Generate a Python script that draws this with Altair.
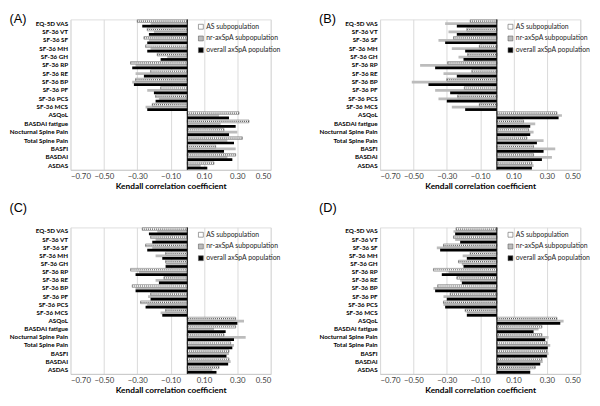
import altair as alt
import pandas as pd

categories = ["EQ-5D VAS", "SF-36 VT", "SF-36 SF", "SF-36 MH", "SF-36 GH", "SF-36 RP",
              "SF-36 RE", "SF-36 BP", "SF-36 PF", "SF-36 PCS", "SF-36 MCS", "ASQoL",
              "BASDAI fatigue", "Nocturnal Spine Pain", "Total Spine Pain", "BASFI",
              "BASDAI", "ASDAS"]
series_names = ["AS subpopulation", "nr-axSpA subpopulation", "overall axSpA population"]
panels = ["(A)", "(B)", "(C)", "(D)"]
tick_values = [-0.70, -0.50, -0.30, -0.10, 0.10, 0.30, 0.50]

A_AS = [-0.30, -0.24, -0.26, -0.25, -0.18, -0.34, -0.22, -0.31, -0.16, -0.19, -0.21, 0.31, 0.37, 0.22, 0.33, 0.17, 0.29, 0.16]
A_NR = [-0.22, -0.20, -0.23, -0.22, -0.12, -0.31, -0.31, -0.33, -0.24, -0.17, -0.25, 0.19, 0.20, 0.30, 0.24, 0.29, 0.24, 0.08]
A_ALL = [-0.27, -0.23, -0.24, -0.24, -0.16, -0.33, -0.26, -0.32, -0.20, -0.19, -0.24, 0.25, 0.29, 0.25, 0.28, 0.22, 0.27, 0.12]

B_AS = [-0.16, -0.18, -0.26, -0.105, -0.175, -0.295, -0.15, -0.30, -0.195, -0.235, -0.105, 0.36, 0.16, 0.19, 0.18, 0.22, 0.22, 0.21]
B_NR = [-0.31, -0.29, -0.35, -0.27, -0.23, -0.46, -0.32, -0.51, -0.37, -0.35, -0.27, 0.39, 0.23, 0.22, 0.28, 0.35, 0.33, 0.22]
B_ALL = [-0.24, -0.24, -0.31, -0.19, -0.20, -0.37, -0.24, -0.41, -0.28, -0.30, -0.19, 0.37, 0.20, 0.20, 0.24, 0.28, 0.27, 0.21]

C_AS = [-0.27, -0.22, -0.25, -0.13, -0.13, -0.34, -0.14, -0.33, -0.22, -0.28, -0.13, 0.29, 0.29, 0.22, 0.26, 0.25, 0.25, 0.19]
C_NR = [-0.18, -0.19, -0.21, -0.19, -0.13, -0.29, -0.19, -0.31, -0.235, -0.24, -0.16, 0.34, 0.16, 0.35, 0.28, 0.25, 0.26, 0.15]
C_ALL = [-0.23, -0.21, -0.24, -0.15, -0.13, -0.31, -0.17, -0.31, -0.22, -0.25, -0.15, 0.30, 0.23, 0.28, 0.27, 0.235, 0.245, 0.175]

D_AS = [-0.245, -0.26, -0.32, -0.16, -0.23, -0.38, -0.24, -0.355, -0.28, -0.32, -0.19, 0.36, 0.27, 0.27, 0.30, 0.30, 0.27, 0.23]
D_NR = [-0.26, -0.25, -0.36, -0.205, -0.21, -0.29, -0.22, -0.38, -0.32, -0.32, -0.18, 0.40, 0.25, 0.31, 0.32, 0.31, 0.275, 0.20]
D_ALL = [-0.25, -0.22, -0.34, -0.18, -0.20, -0.33, -0.21, -0.37, -0.30, -0.31, -0.18, 0.38, 0.22, 0.29, 0.305, 0.30, 0.26, 0.20]

panel_data = {
    "(A)": (A_AS, A_NR, A_ALL),
    "(B)": (B_AS, B_NR, B_ALL),
    "(C)": (C_AS, C_NR, C_ALL),
    "(D)": (D_AS, D_NR, D_ALL),
}

rows = []
for p in panels:
    for vals, s in zip(panel_data[p], series_names):
        for c, v in zip(categories, vals):
            rows.append({"panel": p, "category": c, "series": s, "value": v})
df = pd.DataFrame(rows)
zero_df = pd.DataFrame({"value": [0.0]})

FONT = "Lato"
color_scale = alt.Scale(domain=series_names, range=["#ffffff", "#bcbcbc", "#000000"])


def make_panel(p, title_offset, height):
    base = alt.Chart(df).transform_filter(alt.datum.panel == p)
    y = alt.Y("category:N", sort=categories,
              axis=alt.Axis(title=None, labelFont=FONT, labelFontWeight="bold",
                            labelFontSize=6.4, labelColor="black", domain=False,
                            ticks=False, grid=False, labelPadding=3,
                            minExtent=59, maxExtent=59))
    x = alt.X("value:Q", scale=alt.Scale(domain=[-0.7, 0.5], nice=False, zero=False),
              axis=alt.Axis(values=tick_values, format=".2f",
                            title="Kendall correlation coefficient",
                            grid=True, gridColor="#d9d9d9", ticks=False,
                            domain=True, domainColor="#c8c8c8",
                            labelFont=FONT, labelFontSize=8, labelColor="#404040",
                            labelPadding=3, titleFont=FONT, titleFontSize=8.5,
                            titleFontWeight="bold", titleColor="black", titlePadding=1))
    color = alt.Color("series:N", scale=color_scale,
                      legend=alt.Legend(title=None, orient="none", legendX=130, legendY=4,
                                        symbolType="square", symbolSize=25,
                                        symbolStrokeColor="#606060", symbolStrokeWidth=0.6,
                                        labelFont=FONT, labelFontSize=7, labelColor="#262626",
                                        rowPadding=3, symbolOffset=0, labelOffset=2,
                                        padding=0))

    grey = base.transform_filter(alt.datum.series == series_names[1]).mark_bar(
        height=2.8, yOffset=0).encode(x=x, x2=alt.datum(0), y=y, color=color)
    as_bar = base.transform_filter(alt.datum.series == series_names[0]).mark_bar(
        height=2.8, yOffset=-2.5, stroke="#505050", strokeWidth=0.5).encode(
        x=x, x2=alt.datum(0), y=y, color=color)
    hatch = base.transform_filter(alt.datum.series == series_names[0]).mark_rule(
        yOffset=-2.5, strokeDash=[1, 1], color="#555555", strokeWidth=1.2).encode(
        x=x, x2=alt.datum(0), y=y)
    black = base.transform_filter(alt.datum.series == series_names[2]).mark_bar(
        height=2.8, yOffset=2.5).encode(x=x, x2=alt.datum(0), y=y, color=color)
    zero = alt.Chart(zero_df).mark_rule(color="black", strokeWidth=1).encode(x=x)

    return alt.layer(grey, as_bar, hatch, black, zero).properties(
        width=205, height=height,
        title=alt.TitleParams(p, anchor="start", frame="bounds", fontSize=13,
                              fontWeight="normal", font="Liberation Sans",
                              color="black", offset=title_offset))


row1 = alt.hconcat(make_panel("(A)", -7, 154), make_panel("(B)", -7, 154),
                   spacing=36).resolve_scale(color="independent").resolve_legend(
    color="independent")
row2 = alt.hconcat(make_panel("(C)", 12, 150), make_panel("(D)", 12, 150),
                   spacing=36).resolve_scale(color="independent").resolve_legend(
    color="independent")
chart = alt.vconcat(row1, row2, spacing=12).resolve_scale(
    color="independent").resolve_legend(color="independent").properties(
    padding=0).configure_view(stroke=None).configure(background="white")

chart.save("out.html", embed_options={"renderer": "svg", "actions": False})
